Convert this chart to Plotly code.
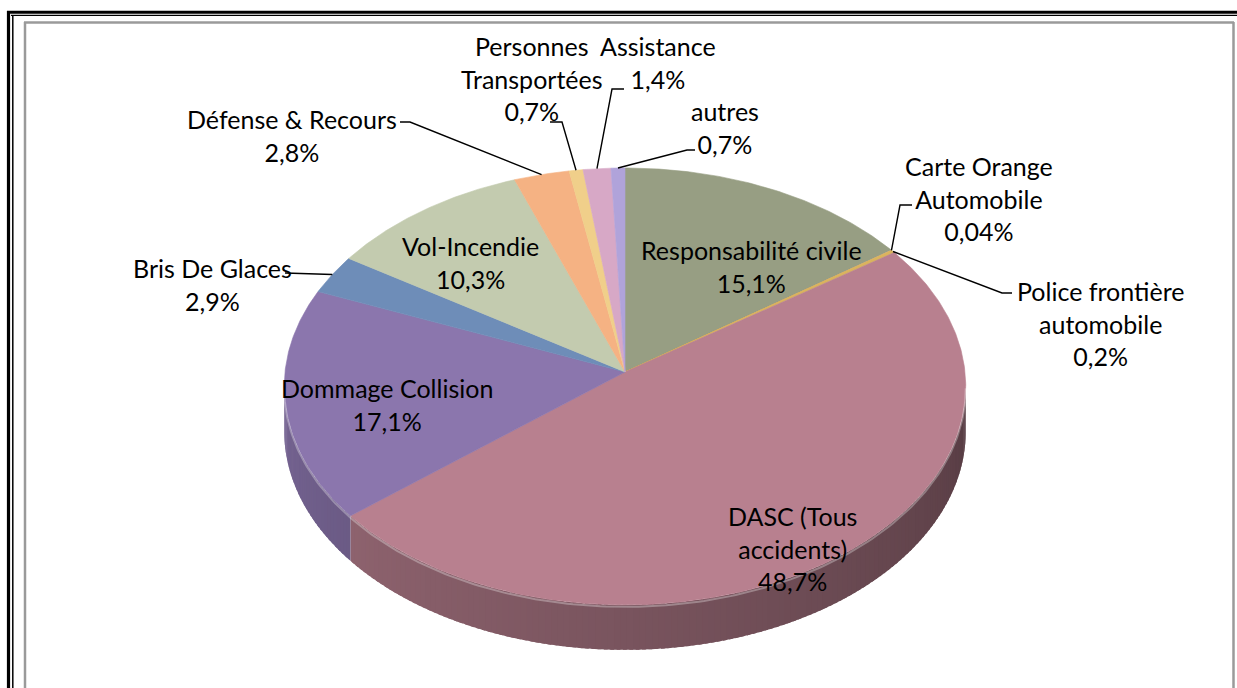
import numpy as np
import plotly.graph_objects as go

# ---------------- data ----------------
categories = ["Responsabilité civile", "Carte Orange Automobile", "Police frontière automobile",
              "DASC (Tous accidents)", "Dommage Collision", "Bris De Glaces", "Vol-Incendie",
              "Défense & Recours", "Personnes Transportées", "Assistance", "autres"]
values = [15.1, 0.04, 0.2, 48.7, 17.1, 2.9, 10.3, 2.8, 0.7, 1.4, 0.7]
label_names = ["Responsabilité civile", "Carte Orange<br>Automobile", "Police frontière<br>automobile",
               "DASC (Tous<br>accidents)", "Dommage Collision", "Bris De Glaces", "Vol-Incendie",
               "Défense & Recours", "Personnes<br>Transportées", "Assistance", "autres"]

# ---------------- style / layout ----------------
colors = ["#979E83", "#E9A24A", "#D9B45E", "#B8808F", "#8B76AD", "#6E8DB8", "#C3CBAF",
          "#F5B283", "#F0CF8A", "#D7A8C6", "#B0A3DA"]
W, H = 1237, 688
CX, CY = 625, 372        # projected pie centre (px)
RX, RY = 340, 217.5      # radii
PERSP = 0.066            # perspective strength
DEPTH = 45               # wall thickness
FONT = "Lato"
FSIZE = 25

# label centres (px) and leader stubs (label side)
label_pos = {0: (751, 266), 1: (979, 198), 2: (1100, 323), 3: (792, 548), 4: (387, 404),
             5: (212, 284), 6: (470, 262), 7: (292, 135), 8: (532, 78), 9: (658, 62), 10: (725, 127)}
leaders = {1: [(912, 205), (900, 205)], 2: [(1012, 293), (1002, 293)], 5: [(285, 273)],
           7: [(400, 122), (410, 122)], 8: [(550, 122), (562, 122)], 9: [(624, 89), (612, 89)],
           10: [(695, 150), (687, 150)]}


def proj(theta_deg):
    t = np.radians(theta_deg)
    u, v = np.sin(t), np.cos(t)
    w = 1 + PERSP * v
    return CX + RX * u / w, CY - RY * v / w


def shade(hexcol, f):
    h = hexcol.lstrip("#")
    r, g, b = (int(h[i:i + 2], 16) for i in (0, 2, 4))
    return "rgb(%d,%d,%d)" % (r * f, g * f, b * f)


def pct(v):
    d = 2 if v < 0.1 else 1
    return f"{v:.{d}f}".replace(".", ",") + "%"


total = sum(values)
cum = np.concatenate([[0], np.cumsum(values)])
a0 = 360 * cum[:-1] / total
a1 = 360 * cum[1:] / total

fig = go.Figure()

# ---- side wall (front part), smooth shading with overlapping strips ----
sil = np.degrees(np.arcsin(PERSP))
w_lo, w_hi = 90 + sil, 270 - sil
STEP = 1.0
for i in range(len(values)):
    s, e = max(a0[i], w_lo), min(a1[i], w_hi)
    if e <= s:
        continue
    n = max(1, int(np.ceil((e - s) / STEP)))
    edges = np.linspace(s, e, n + 1)
    for k in range(n):
        lo = edges[k]
        hi = min(edges[k + 1] + 0.6, e) if k < n - 1 else edges[k + 1]
        th = np.linspace(lo, hi, 4)
        xs, ys = proj(th)
        px = np.concatenate([xs, xs[::-1]])
        py = np.concatenate([ys, ys[::-1] + DEPTH])
        mid = 0.5 * (edges[k] + edges[k + 1])
        f = 0.47 + 0.38 * (mid - w_lo) / (w_hi - w_lo)
        c = shade(colors[i], f)
        fig.add_trace(go.Scatter(x=px, y=py, fill="toself", fillcolor=c, mode="none",
                                 hoverinfo="skip", showlegend=False))

# ---- top faces ----
for i in range(len(values)):
    th = np.linspace(a0[i], a1[i], max(3, int((a1[i] - a0[i]) * 2)))
    xs, ys = proj(th)
    px = np.concatenate([[CX], xs, [CX]])
    py = np.concatenate([[CY], ys, [CY]])
    fig.add_trace(go.Scatter(x=px, y=py, fill="toself", fillcolor=colors[i], mode="lines",
                             line=dict(color=colors[i], width=0.6), hoverinfo="skip",
                             name=categories[i], showlegend=False))

# bevel highlight along the front edge
th = np.linspace(w_lo, w_hi, 200)
xs, ys = proj(th)
fig.add_trace(go.Scatter(x=xs, y=ys + 2, mode="lines", line=dict(color="rgba(255,255,255,0.30)", width=2),
                         hoverinfo="skip", showlegend=False))

# ---- leader lines ----
for i, pts in leaders.items():
    mid = 0.5 * (a0[i] + a1[i])
    ex, ey = proj(mid)
    lx = [p[0] for p in pts] + [ex]
    ly = [p[1] for p in pts] + [ey]
    fig.add_trace(go.Scatter(x=lx, y=ly, mode="lines", line=dict(color="black", width=1.4),
                             hoverinfo="skip", showlegend=False))

# ---- labels ----
for i in range(len(values)):
    x, y = label_pos[i]
    fig.add_annotation(x=x, y=y, xref="x", yref="y", text=label_names[i] + "<br>" + pct(values[i]),
                       showarrow=False, align="center", xanchor="center", yanchor="middle",
                       font=dict(family=FONT, size=FSIZE, color="black"))

# ---- frame ----
frame = [
    dict(x0=8.5, y0=11, x1=8.5, y1=H, w=3.2, c="black"),
    dict(x0=7, y0=12.3, x1=W, y1=12.3, w=3.0, c="black"),
    dict(x0=12.8, y0=15, x1=12.8, y1=H, w=1.5, c="black"),
    dict(x0=11, y0=15.3, x1=W, y1=15.3, w=1.2, c="black"),
    dict(x0=25, y0=22, x1=25, y1=H, w=2.5, c="#9a9a9a"),
    dict(x0=24, y0=22.5, x1=1234, y1=22.5, w=2.5, c="#9a9a9a"),
    dict(x0=1233.5, y0=22, x1=1233.5, y1=H, w=2.5, c="#9a9a9a"),
]
for s in frame:
    fig.add_shape(type="line", x0=s["x0"], y0=s["y0"], x1=s["x1"], y1=s["y1"], xref="x", yref="y",
                  line=dict(color=s["c"], width=s["w"]))

fig.update_layout(
    width=W, height=H, margin=dict(l=0, r=0, t=0, b=0),
    paper_bgcolor="white", plot_bgcolor="white", showlegend=False,
    xaxis=dict(range=[0, W], visible=False, fixedrange=True),
    yaxis=dict(range=[H, 0], visible=False, fixedrange=True),
)

fig.write_html("out.html", post_script="document.body.style.margin='0';",
               config={"displayModeBar": False})
